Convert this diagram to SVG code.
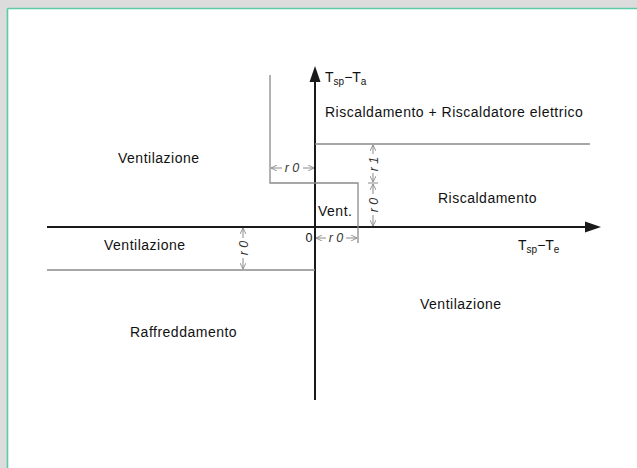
<svg xmlns="http://www.w3.org/2000/svg" width="637" height="468" viewBox="0 0 637 468">
<style>
.t{font-family:"Liberation Sans",Arial,sans-serif;font-size:14px;letter-spacing:0.5px;fill:#111}
.l{font-family:"Liberation Sans",Arial,sans-serif;font-size:14px;fill:#111}
.d{font-family:"Liberation Sans",Arial,sans-serif;font-size:12.5px;font-style:italic;fill:#333}
.ax{stroke:#1a1a1a;stroke-width:2;fill:none}
.g{stroke:#8a8a8a;stroke-width:1.3;fill:none}
.dim{stroke:#8a8a8a;stroke-width:1;fill:none}
</style>
<defs>
<marker id="ah" viewBox="0 0 10 10" refX="10" refY="5" markerWidth="6" markerHeight="6" orient="auto-start-reverse" markerUnits="userSpaceOnUse">
<path d="M0,0 L10,5 L0,10" fill="none" stroke="#8a8a8a" stroke-width="1.5"/>
</marker>
</defs>
<rect x="0" y="0" width="637" height="468" fill="#dcdcdc"/>
<rect x="8" y="9" width="629" height="459" fill="#ffffff"/>
<line x1="7.5" y1="8.5" x2="637" y2="8.5" stroke="#5cc9a7" stroke-width="1.6"/>
<line x1="7.5" y1="8.5" x2="7.5" y2="468" stroke="#5cc9a7" stroke-width="1.6"/>
<g id="connectors">
<line class="ax" x1="315" y1="400" x2="315" y2="80"/>
<path d="M315,66 L309.5,82 L320.5,82 Z" fill="#1a1a1a"/>
<line class="ax" x1="47" y1="227" x2="588" y2="227"/>
<path d="M601,227 L585,221.5 L585,232.5 Z" fill="#1a1a1a"/>
<line class="g" x1="315" y1="144" x2="590" y2="144"/>
<path class="g" d="M270,75 L270,183 L358,183 L358,243"/>
<line class="g" x1="47" y1="270" x2="315" y2="270"/>
<line class="dim" x1="271" y1="168" x2="282" y2="168" marker-start="url(#ah)"/>
<line class="dim" x1="303" y1="168" x2="314" y2="168" marker-end="url(#ah)"/>
<line class="dim" x1="316" y1="238" x2="326" y2="238" marker-start="url(#ah)"/>
<line class="dim" x1="346" y1="238" x2="357" y2="238" marker-end="url(#ah)"/>
<line class="dim" x1="373" y1="145" x2="373" y2="154" marker-start="url(#ah)"/>
<line class="dim" x1="373" y1="173" x2="373" y2="182" marker-end="url(#ah)"/>
<line class="dim" x1="373" y1="184" x2="373" y2="194" marker-start="url(#ah)"/>
<line class="dim" x1="373" y1="215" x2="373" y2="226" marker-end="url(#ah)"/>
<line class="dim" x1="368" y1="183" x2="378" y2="183"/>
<line class="dim" x1="243" y1="228" x2="243" y2="238" marker-start="url(#ah)"/>
<line class="dim" x1="243" y1="258" x2="243" y2="269" marker-end="url(#ah)"/>
</g>
<g id="dims">
<text class="d" x="292" y="172" text-anchor="middle">r 0</text>
<text class="d" x="336" y="242" text-anchor="middle">r 0</text>
<text class="d" transform="translate(377.5,164) rotate(-90)" text-anchor="middle">r 1</text>
<text class="d" transform="translate(377.5,205) rotate(-90)" text-anchor="middle">r 0</text>
<text class="d" transform="translate(247.5,248) rotate(-90)" text-anchor="middle">r 0</text>
<text class="l" x="309" y="242" text-anchor="middle" style="font-size:12.5px">0</text>
</g>
<g id="axis-y-label"><text class="l" x="325" y="82">T<tspan font-size="10" dy="3">sp</tspan><tspan dy="-3">−T</tspan><tspan font-size="10" dy="3">a</tspan></text></g>
<g id="axis-x-label"><text class="l" x="518" y="250">T<tspan font-size="10" dy="3">sp</tspan><tspan dy="-3">−T</tspan><tspan font-size="10" dy="3">e</tspan></text></g>
<g id="n1"><text class="t" x="325" y="117">Riscaldamento + Riscaldatore elettrico</text></g>
<g id="n2"><text class="t" x="118" y="163">Ventilazione</text></g>
<g id="n3"><text class="t" x="438" y="203">Riscaldamento</text></g>
<g id="n4"><text class="t" x="318" y="216">Vent.</text></g>
<g id="n5"><text class="t" x="104" y="250">Ventilazione</text></g>
<g id="n6"><text class="t" x="420" y="309">Ventilazione</text></g>
<g id="n7"><text class="t" x="130" y="337">Raffreddamento</text></g>
</svg>
